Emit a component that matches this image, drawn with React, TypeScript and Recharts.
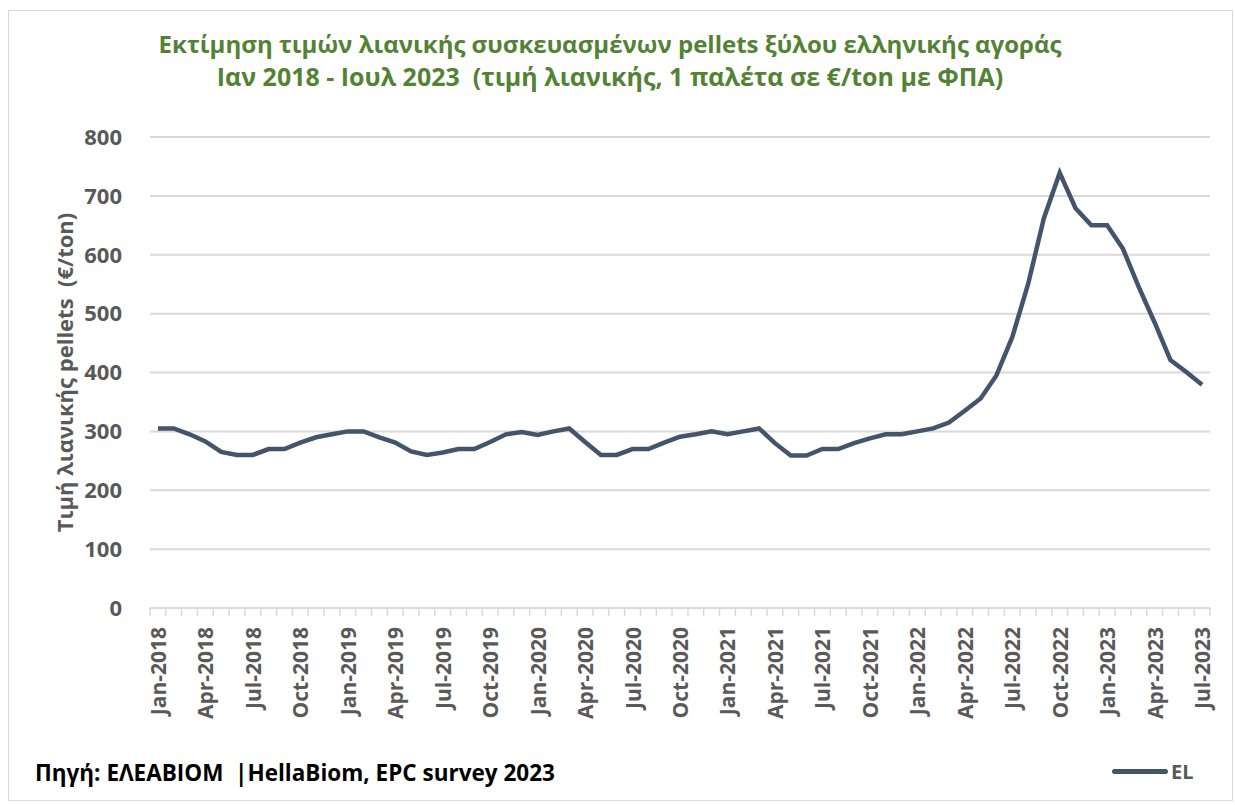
import { LineChart, Line, XAxis, YAxis, CartesianGrid } from "recharts";

const MONTHS = ["Jan", "Feb", "Mar", "Apr", "May", "Jun", "Jul", "Aug", "Sep", "Oct", "Nov", "Dec"];
const YEARS = [2018, 2019, 2020, 2021, 2022, 2023];

// Jan-2018 .. Jul-2023
const categories: string[] = YEARS.flatMap((y) => MONTHS.map((m) => `${m}-${y}`)).slice(0, 67);

const priceEL = [
  // 2018
  305, 305, 295, 283, 265, 260, 260, 270, 270, 281, 290, 295,
  // 2019
  300, 300, 290, 281, 266, 260, 264, 270, 270, 282, 295, 299,
  // 2020
  294, 300, 305, 282, 260, 260, 270, 270, 281, 291, 295, 300,
  // 2021
  295, 300, 305, 280, 259, 259, 270, 270, 280, 288, 295, 295,
  // 2022
  300, 305, 315, 335, 356, 395, 460, 550, 662, 739, 679, 650,
  // 2023
  650, 610, 545, 485, 421, 401, 379,
];

const yTicks = [0, 100, 200, 300, 400, 500, 600, 700, 800];

const data = categories.map((name, i) => ({ name, EL: priceEL[i] }));

const LINE = "#44546A";
const GRID = "#d9d9d9";
const TEXT = "#595959";
const GREEN = "#548235";
const AXIS_FONT = "'Open Sans', sans-serif";

const CHART_W = 1235;
const CHART_H = 805;
const PLOT_LEFT = 150;
const PLOT_RIGHT = 1210;
const BAND = (PLOT_RIGHT - PLOT_LEFT) / categories.length;

function XTick(props: any) {
  const { x, y, payload, index } = props;
  const i = index ?? payload.index;
  const top = y - 8;
  return (
    <g>
      <line x1={x - BAND / 2} x2={x - BAND / 2} y1={top} y2={top + 8} stroke={GRID} strokeWidth={1.5} />
      {i === categories.length - 1 && (
        <line x1={x + BAND / 2} x2={x + BAND / 2} y1={top} y2={top + 8} stroke={GRID} strokeWidth={1.5} />
      )}
      {i % 3 === 0 && (
        <text
          x={0}
          y={0}
          transform={`translate(${x + 8},${top + 19}) rotate(-90)`}
          textAnchor="end"
          fill={TEXT}
          fontSize={21}
          fontWeight={700}
          fontFamily={AXIS_FONT}
        >
          {payload.value}
        </text>
      )}
    </g>
  );
}

export default function App() {
  return (
    <div style={{ position: "absolute", left: 0, top: 0, width: CHART_W, height: CHART_H, background: "#fff" }}>
      <div
        style={{
          position: "absolute",
          left: 8,
          top: 10,
          width: CHART_W - 10,
          height: CHART_H - 14,
          border: "1px solid #d9d9d9",
          boxSizing: "border-box",
        }}
      />
      <div
        style={{
          position: "absolute",
          left: 0,
          top: 27,
          width: 1220,
          textAlign: "center",
          color: GREEN,
          fontFamily: "'Open Sans', sans-serif",
          fontWeight: 700,
          fontSize: 24,
          lineHeight: "33px",
        }}
      >
        <div>Εκτίμηση τιμών λιανικής συσκευασμένων pellets ξύλου ελληνικής αγοράς</div>
        <div style={{ whiteSpace: "pre", fontSize: 25 }}>Ιαν 2018 - Ιουλ 2023  (τιμή λιανικής, 1 παλέτα σε €/ton με ΦΠΑ)</div>
      </div>
      <div style={{ position: "absolute", left: 0, top: 0 }}>
        <LineChart
          width={CHART_W}
          height={CHART_H}
          data={data}
          margin={{ top: 137, right: CHART_W - PLOT_RIGHT, left: 0, bottom: 0 }}
        >
          <CartesianGrid vertical={false} stroke={GRID} strokeWidth={2} />
          <XAxis
            dataKey="name"
            interval={0}
            height={197}
            padding={{ left: BAND / 2, right: BAND / 2 }}
            axisLine={{ stroke: GRID, strokeWidth: 2 }}
            tickLine={false}
            tick={<XTick />}
          />
          <YAxis
            domain={[0, 800]}
            ticks={yTicks}
            width={PLOT_LEFT}
            axisLine={false}
            tickLine={false}
            tickMargin={22}
            tick={{ fill: TEXT, fontSize: 22, fontWeight: 700, fontFamily: AXIS_FONT }}
            label={{
              value: "Τιμή λιανικής pellets \u00A0(€/ton)",
              angle: -90,
              position: "insideLeft",
              offset: 65,
              style: {
                fill: TEXT,
                fontSize: 22,
                fontWeight: 700,
                fontFamily: AXIS_FONT,
                textAnchor: "middle",
              },
            }}
          />
          <Line
            type="linear"
            dataKey="EL"
            stroke={LINE}
            strokeWidth={4.5}
            dot={false}
            isAnimationActive={false}
          />
        </LineChart>
      </div>
      <div
        style={{
          position: "absolute",
          left: 35,
          top: 757,
          color: "#000",
          fontFamily: "'Open Sans', sans-serif",
          fontWeight: 700,
          fontSize: 22.5,
          whiteSpace: "pre",
        }}
      >
        Πηγή: ΕΛΕΑΒΙΟΜ  |HellaBiom, EPC survey 2023
      </div>
      <div style={{ position: "absolute", left: 1112, top: 758, display: "flex", alignItems: "center" }}>
        <span style={{ display: "inline-block", width: 56, height: 5, background: LINE, borderRadius: 3 }} />
        <span
          style={{
            marginLeft: 3,
            color: TEXT,
            fontFamily: "'Open Sans', sans-serif",
            fontWeight: 700,
            fontSize: 20,
          }}
        >
          EL
        </span>
      </div>
    </div>
  );
}
